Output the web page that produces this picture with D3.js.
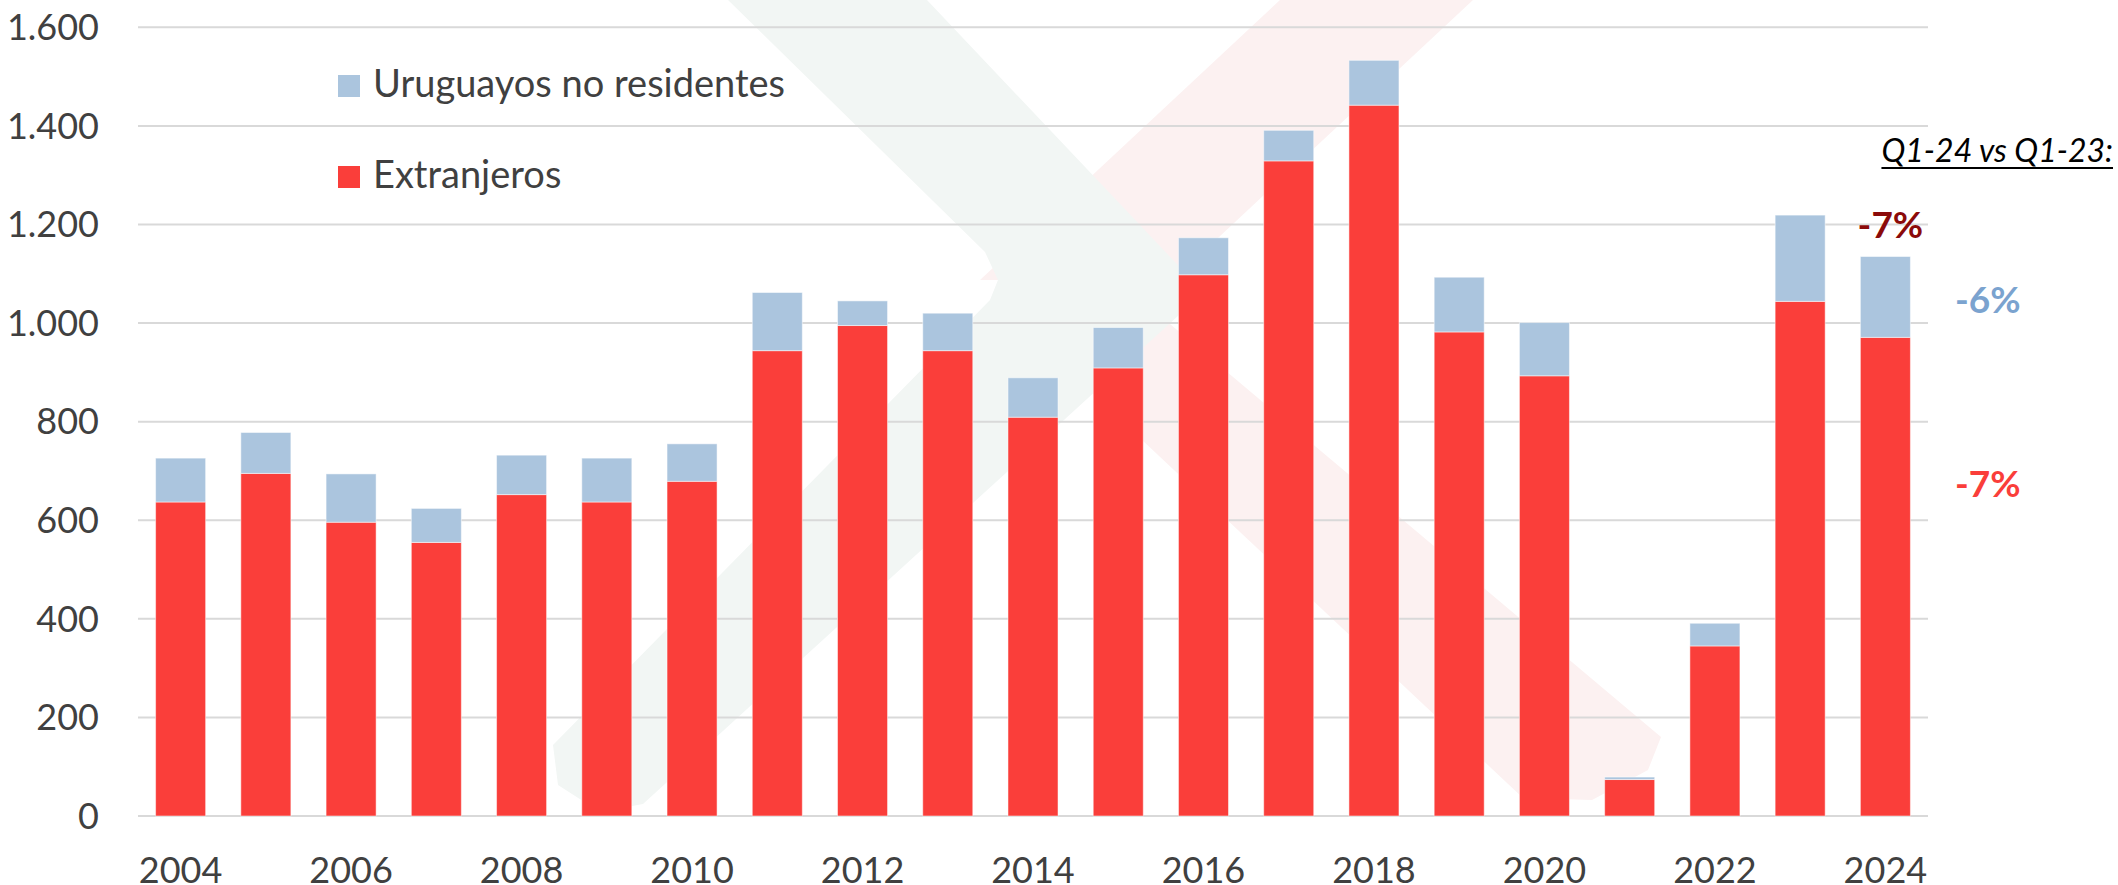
<!DOCTYPE html>
<html>
<head>
<meta charset="utf-8">
<script src="https://cdn.jsdelivr.net/npm/d3@7"></script>
<style>
  html, body { margin: 0; padding: 0; background: #fff; }
  svg text { font-family: Lato, "Open Sans", sans-serif; }
</style>
</head>
<body>
<svg id="chart"></svg>
<script>
// datos (miles de visitantes, Q1)
var years = ["2004","2005","2006","2007","2008","2009","2010","2011","2012","2013","2014",
             "2015","2016","2017","2018","2019","2020","2021","2022","2023","2024"];
var extranjeros = [637, 695, 596, 555, 652, 637, 679, 944, 995, 944, 809,
                   909, 1098, 1329, 1442, 982, 893, 74, 345, 1044, 971];
var uruguayosNoRes = [89, 83, 98, 69, 80, 89, 76, 118, 50, 76, 80,
                      82, 75, 62, 91, 111, 108, 5, 46, 175, 164];
var yTicks = [0, 200, 400, 600, 800, 1000, 1200, 1400, 1600];
var xTickLabels = ["2004","2006","2008","2010","2012","2014","2016","2018","2020","2022","2024"];
var seriesNames = ["Uruguayos no residentes", "Extranjeros"];
var seriesColors = ["#abc5de", "#fa3e3a"];

var W = 2118, H = 885;

var svg = d3.select("svg#chart")
    .attr("width", W)
    .attr("height", H);

// marca de agua (muy tenue), rosa debajo y verde encima
var wm = svg.append("g");
wm.append("path")
    .attr("d", "M1280,0 L1473,0 L1173,280 L980,280 Z")
    .attr("fill", "#fcf1f1");
wm.append("path")
    .attr("d", "M1082,250 L1661,737 L1648,770 L1592,800 L1523,798 L1025,330 Z")
    .attr("fill", "#fcf1f1");
wm.append("path")
    .attr("d", "M728,0 L927,0 L1192,280 L1190,305 L643,804 L600,812 L558,785 L553,745 L990,300 L998,280 L985,252 Z")
    .attr("fill", "#f2f6f4");

var x = d3.scaleBand()
    .domain(years)
    .range([138, 1928])
    .paddingInner(0.413)
    .paddingOuter(0.2065);

var y = d3.scaleLinear()
    .domain([0, 1600])
    .range([816, 27.3]);

// lineas de grilla
svg.append("g").selectAll("line.grid")
    .data(yTicks)
    .enter()
    .append("line")
    .attr("class", "grid")
    .attr("x1", x.range()[0])
    .attr("x2", x.range()[1])
    .attr("y1", function(d) { return y(d) })
    .attr("y2", function(d) { return y(d) })
    .attr("stroke", "#d9d9d9")
    .attr("stroke-width", 2);

// eje y
var yAxis = svg.append("g")
    .attr("transform", "translate(" + 99 + ",0)")
    .call(d3.axisLeft(y).tickValues(yTicks).tickSize(0).tickPadding(0)
        .tickFormat(function(d) { return d3.format(",")(d).replace(/,/g, "."); }));
yAxis.select(".domain").remove();
yAxis.selectAll("text")
    .attr("fill", "#404040")
    .attr("font-size", 36)
    .attr("dy", "0.34em");

// eje x
var xAxis = svg.append("g")
    .attr("transform", "translate(0," + 816 + ")")
    .call(d3.axisBottom(x).tickValues(xTickLabels).tickSize(0).tickPadding(0));
xAxis.select(".domain").remove();
xAxis.selectAll("text")
    .attr("fill", "#404040")
    .attr("font-size", 36)
    .attr("dy", 0)
    .attr("y", 67);

// barras apiladas
var table = years.map(function(yr, i) {
    return { year: yr, ext: extranjeros[i], uru: uruguayosNoRes[i] };
});
var stack = d3.stack().keys(["ext", "uru"])(table);
var colorOf = { ext: seriesColors[1], uru: seriesColors[0] };

svg.append("g").selectAll("g.layer")
    .data(stack)
    .enter()
    .append("g")
    .attr("class", "layer")
    .attr("fill", function(d) { return colorOf[d.key] })
    .selectAll("rect")
    .data(function(d) { return d })
    .enter()
    .append("rect")
    .attr("x", function(d) { return x(d.data.year) })
    .attr("width", x.bandwidth())
    .attr("y", function(d) { return y(d[1]) })
    .attr("height", function(d) { return y(d[0]) - y(d[1]) })
    .attr("stroke", "#ffffff")
    .attr("stroke-opacity", 0.5)
    .attr("stroke-width", 1);

// leyenda
var legend = svg.append("g");
seriesNames.forEach(function(name, i) {
    var ly = 75 + i * 91;
    legend.append("rect")
        .attr("x", 338).attr("y", ly)
        .attr("width", 22).attr("height", 22)
        .attr("fill", seriesColors[i]);
    legend.append("text")
        .attr("x", 373).attr("y", ly + 22)
        .attr("font-size", 38)
        .attr("fill", "#404040")
        .text(name);
});

// anotaciones de variacion
var last = table[table.length - 1];
var cx = x(last.year) + x.bandwidth() / 2;

var q = svg.append("text")
    .attr("x", 2113).attr("y", 162)
    .attr("text-anchor", "end")
    .attr("font-size", 32)
    .attr("font-style", "italic")
    .attr("fill", "#000")
    .text("Q1-24 vs Q1-23:");
var qLen = q.node().getComputedTextLength();
svg.append("line")
    .attr("x1", 2113 - qLen).attr("x2", 2113)
    .attr("y1", 168).attr("y2", 168)
    .attr("stroke", "#000").attr("stroke-width", 2);

svg.append("text")
    .attr("x", cx + 5).attr("y", y(last.ext + last.uru) - 19)
    .attr("text-anchor", "middle")
    .attr("font-size", 37).attr("font-weight", "bold")
    .attr("fill", "#8b0a0a")
    .text("-7%");

svg.append("text")
    .attr("x", 1955).attr("y", y(last.ext + last.uru / 2) + 16)
    .attr("font-size", 37).attr("font-weight", "bold")
    .attr("fill", "#7ba3cf")
    .text("-6%");

svg.append("text")
    .attr("x", 1955).attr("y", 497)
    .attr("font-size", 37).attr("font-weight", "bold")
    .attr("fill", "#fa3e3a")
    .text("-7%");
</script>
</body>
</html>
